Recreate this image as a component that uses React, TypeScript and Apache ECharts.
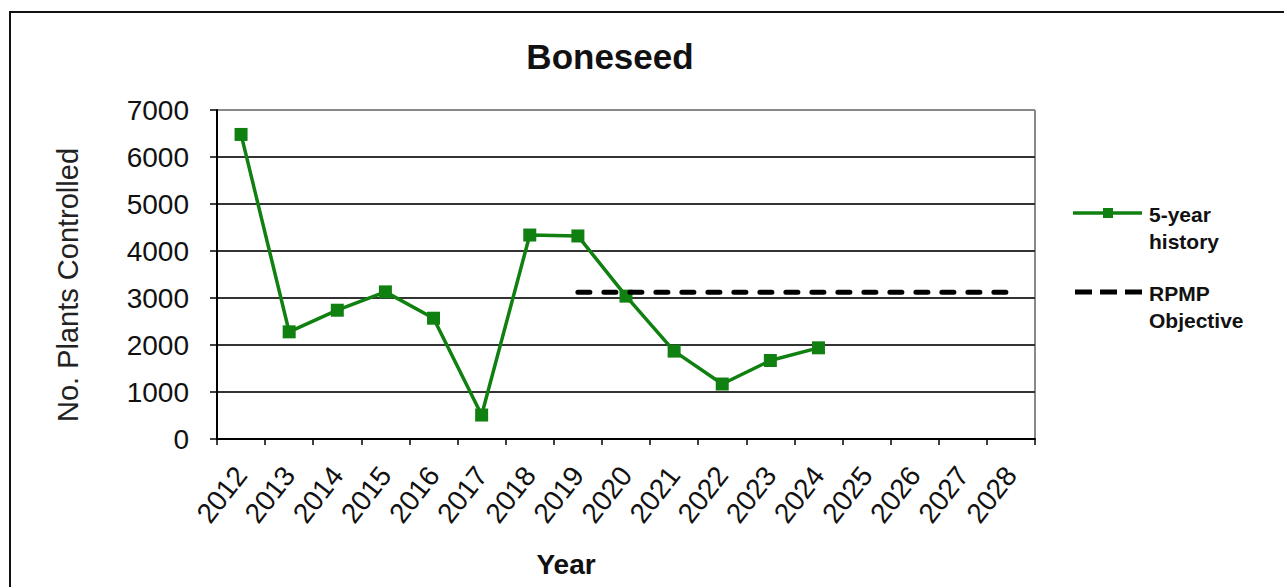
import React, { useEffect, useRef } from "react";
import * as echarts from "echarts";

const years = ["2012","2013","2014","2015","2016","2017","2018","2019","2020","2021","2022","2023","2024","2025","2026","2027","2028"];
const history = [6480, 2280, 2740, 3130, 2570, 510, 4340, 4320, 3040, 1870, 1170, 1670, 1940, null, null, null, null];
const objective = [null, null, null, null, null, null, null, 3120, 3120, 3120, 3120, 3120, 3120, 3120, 3120, 3120, 3120];
const yTicks = [0, 1000, 2000, 3000, 4000, 5000, 6000, 7000];

const FONT = "'Liberation Sans', Arial, sans-serif";
const GREEN = "#108010";

export default function App() {
  const ref = useRef<HTMLDivElement>(null);
  useEffect(() => {
    if (!ref.current) return;
    const chart = echarts.init(ref.current, undefined, { renderer: "svg" });
    chart.setOption({
      animation: false,
      backgroundColor: "#ffffff",
      grid: { left: 217, top: 110, right: 249, bottom: 148, containLabel: false },
      xAxis: {
        type: "category",
        data: years,
        boundaryGap: true,
        axisLine: { show: true, lineStyle: { color: "#000", width: 2 } },
        axisTick: { show: true, inside: false, length: 6, lineStyle: { color: "#000", width: 1.5 } },
        axisLabel: { rotate: 52, margin: 31, fontSize: 28, color: "#111", fontFamily: FONT, interval: 0 },
        splitLine: { show: false },
      },
      yAxis: {
        type: "value",
        min: yTicks[0],
        max: yTicks[yTicks.length - 1],
        interval: 1000,
        axisLine: { show: true, lineStyle: { color: "#000", width: 2 } },
        axisTick: { show: true, inside: false, length: 7, lineStyle: { color: "#000", width: 1.5 } },
        axisLabel: { margin: 28, fontSize: 28, color: "#111", fontFamily: FONT, formatter: (v: number) => String(v) },
        splitLine: {
          show: true,
          lineStyle: { color: ["#333", "#333", "#333", "#333", "#333", "#333", "#333", "#888"], width: 1.8 },
        },
      },
      series: [
        {
          name: "5-year history",
          type: "line",
          data: history,
          connectNulls: false,
          symbol: "rect",
          symbolSize: 13,
          showSymbol: true,
          lineStyle: { color: GREEN, width: 3.5 },
          itemStyle: { color: GREEN },
          z: 3,
        },
        {
          name: "RPMP Objective",
          type: "line",
          data: objective,
          symbol: "none",
          lineStyle: { color: "#000", width: 5, type: [12, 14], cap: "round" },
          z: 4,
        },
      ],
      graphic: [
        {
          type: "rect",
          shape: { x: 10, y: 12, width: 1300, height: 620 },
          style: { fill: "none", stroke: "#111", lineWidth: 2 },
          silent: true,
        },
        {
          type: "line",
          shape: { x1: 1035, y1: 110, x2: 1035, y2: 439 },
          style: { stroke: "#888", lineWidth: 2 },
          silent: true,
        },
        {
          type: "text",
          x: 610,
          y: 56,
          style: { text: "Boneseed", fontSize: 35, fontWeight: "bold", fontFamily: FONT, fill: "#111", align: "center", verticalAlign: "middle" },
        },
        {
          type: "text",
          x: 68,
          y: 285,
          rotation: Math.PI / 2,
          style: { text: "No. Plants Controlled", fontSize: 29, fontFamily: FONT, fill: "#222", align: "center", verticalAlign: "middle" },
        },
        {
          type: "text",
          x: 566,
          y: 564,
          style: { text: "Year", fontSize: 28, fontWeight: "bold", fontFamily: FONT, fill: "#111", align: "center", verticalAlign: "middle" },
        },
        {
          type: "line",
          shape: { x1: 1073, y1: 213, x2: 1142, y2: 213 },
          style: { stroke: GREEN, lineWidth: 3.5 },
        },
        {
          type: "rect",
          shape: { x: 1103, y: 208, width: 10, height: 10 },
          style: { fill: GREEN },
        },
        {
          type: "text",
          x: 1149,
          y: 201,
          style: { text: "5-year\nhistory", fontSize: 21, fontWeight: "bold", fontFamily: FONT, fill: "#111", lineHeight: 27, align: "left", verticalAlign: "top" },
        },
        {
          type: "line",
          shape: { x1: 1075, y1: 292, x2: 1142, y2: 292 },
          style: { stroke: "#000", lineWidth: 5, lineDash: [17, 8], lineCap: "butt" },
        },
        {
          type: "text",
          x: 1149,
          y: 280,
          style: { text: "RPMP\nObjective", fontSize: 21, fontWeight: "bold", fontFamily: FONT, fill: "#111", lineHeight: 27, align: "left", verticalAlign: "top" },
        },
      ],
    });
    return () => chart.dispose();
  }, []);
  return (
    <div
      ref={ref}
      style={{ position: "fixed", left: 0, top: 0, width: 1284, height: 587 }}
    />
  );
}
